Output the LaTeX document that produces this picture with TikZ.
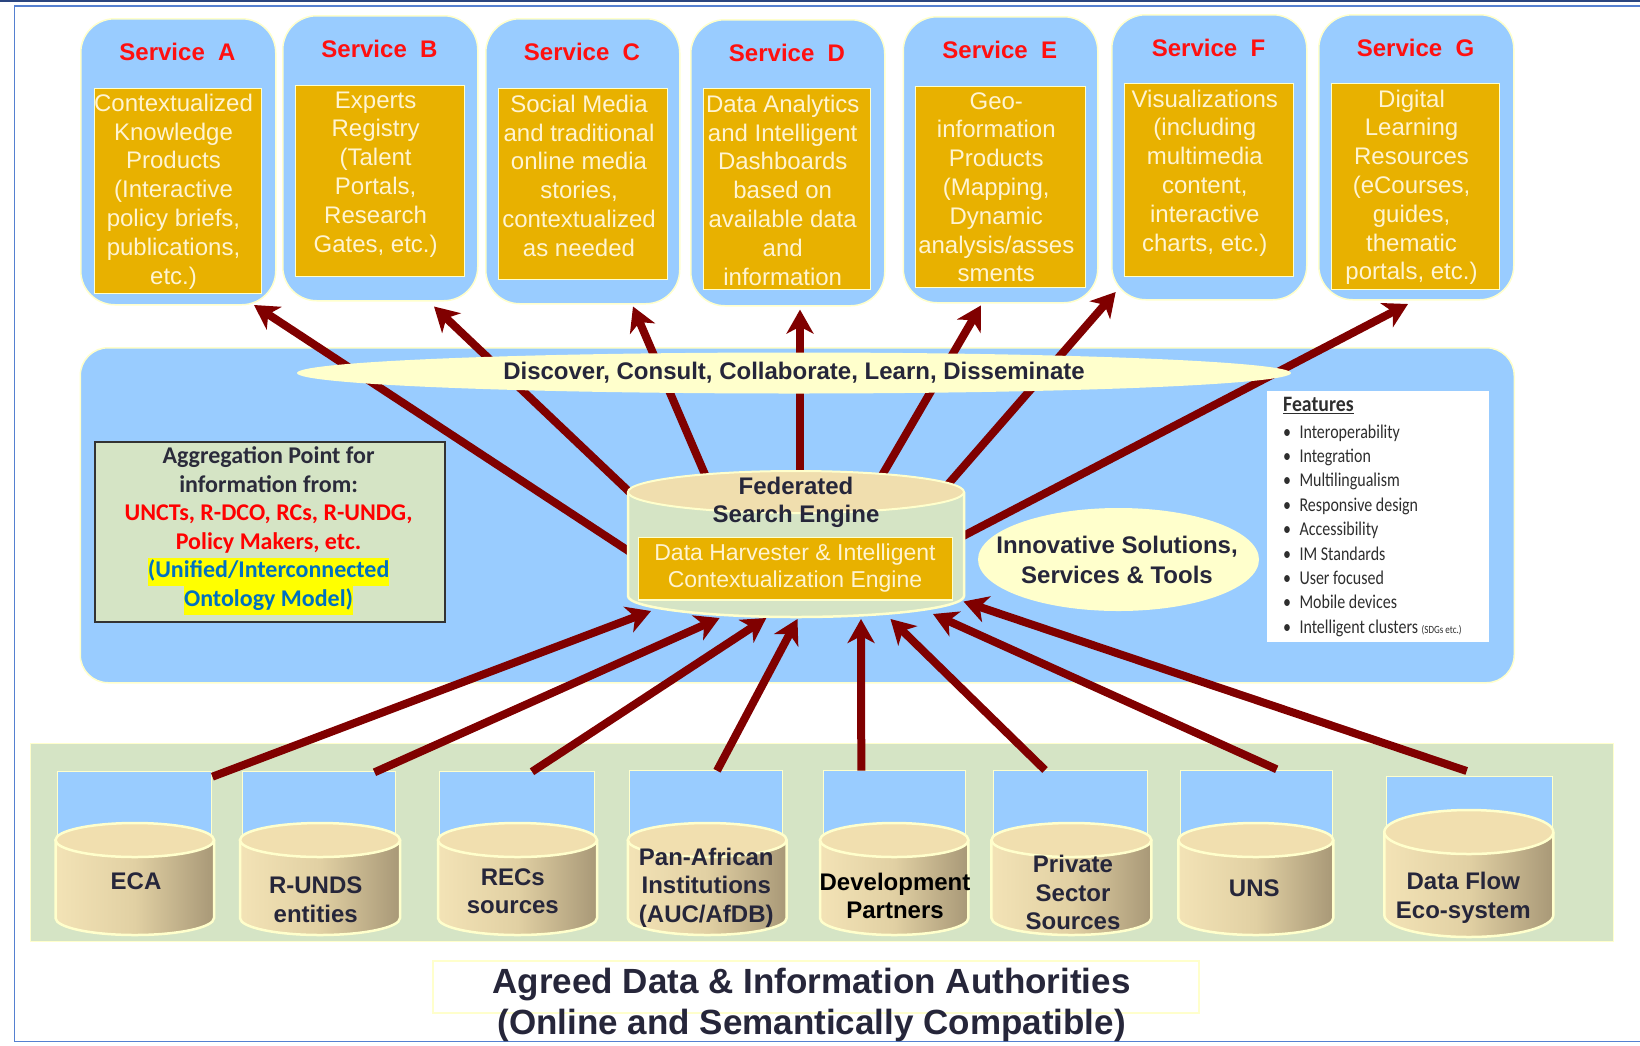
\documentclass[tikz,border=0pt]{standalone}
\usepackage{fontspec}
\setmainfont{Liberation Sans}
\newfontfamily\calfont{Carlito}
\newfontfamily\featfont[FakeStretch=0.82]{Carlito}
\newfontfamily\featheadfont[FakeStretch=0.9]{Carlito}
\usetikzlibrary{arrows.meta,shapes.geometric}
\definecolor{svcblue}{HTML}{99CCFF}
\definecolor{lemon}{HTML}{FFFFCC}
\definecolor{orng}{HTML}{E8B100}
\definecolor{cream}{HTML}{FFF4D2}
\definecolor{ttl}{HTML}{FF1010}
\definecolor{darktx}{HTML}{26263A}
\definecolor{aggtx}{HTML}{2B2B3B}
\definecolor{sage}{HTML}{D5E4C5}
\definecolor{tanc}{HTML}{F0DEAE}
\definecolor{cyltop}{HTML}{F1DFAF}
\definecolor{cylL}{HTML}{F3E3B6}
\definecolor{cylM}{HTML}{E1D0A3}
\definecolor{cylR}{HTML}{A89877}
\definecolor{arrowred}{HTML}{800000}
\definecolor{hlblue}{HTML}{0070C0}
\definecolor{hlyellow}{HTML}{FFFF00}
\definecolor{framedark}{HTML}{2A4580}
\definecolor{frameblue}{HTML}{5580D0}
\definecolor{feattx}{HTML}{2E2E2E}
\definecolor{aggedge}{HTML}{333333}

\newcommand\fbul{\makebox[16.3pt][l]{\textbullet}}
\newcommand\hlbox[1]{{\setlength{\fboxsep}{0pt}\colorbox{hlyellow}{\strut\textcolor{hlblue}{#1}}}}
% #1 name, #2 cx1, #3 cx2, #4 bx1, #5 bx2, #6 blue top, #7 top centre, #8 bottom centre, #9 ry
\newcommand\srccyl[9]{%
  \filldraw[fill=svcblue, draw=lemon, line width=1pt] (#4,#6) rectangle (#5,#7);
  \shade[left color=cylL, right color=cylR, middle color=cylM]
    (#2,#7) -- (#2,#8) arc[start angle=180, end angle=0, x radius={(#3-#2)/2}, y radius=#9] -- (#3,#7) -- cycle;
  \draw[lemon, line width=2.5pt]
    (#2,#7) -- (#2,#8) arc[start angle=180, end angle=0, x radius={(#3-#2)/2}, y radius=#9] -- (#3,#7);
  \filldraw[fill=cyltop, draw=lemon, line width=2.5pt] ({(#2+#3)/2},#7) ellipse[x radius={(#3-#2)/2}, y radius=#9];
  \node[inner sep=0pt] (#1) at ({(#2+#3)/2},{(#7+#8)/2}) {};
}

\begin{document}
\begin{tikzpicture}[x=1pt,y=-1pt,
  svc/.style={draw=lemon, line width=1.5pt, fill=svcblue, rounded corners=34pt, anchor=north west, inner sep=0pt},
  obox/.style={draw=lemon, line width=1.2pt, fill=orng, anchor=north west, inner sep=0pt},
  otext/.style={text=cream, font=\fontsize{24}{28.8}\selectfont, align=center, anchor=north, inner sep=0pt},
  stitle/.style={text=ttl, font=\bfseries\fontsize{24}{28.8}\selectfont, inner sep=0pt},
  srctext/.style={text=darktx, font=\bfseries\fontsize{24}{28.3}\selectfont, align=center, inner sep=0pt},
  arr/.style={draw=arrowred, line width=8pt, -{Stealth[length=24pt,width=27pt,inset=7pt]}}
]
\useasboundingbox (0,0) rectangle (1640,1045);

% frame
\draw[framedark, line width=2.5pt] (0,1.2) -- (1640,1.2);
\draw[frameblue, line width=1.5pt] (1640,6) -- (14.5,6) -- (14.5,1041.5) -- (1640,1041.5);

% services
\node[svc, minimum width=195pt, minimum height=286pt] (sA) at (80,18) {};
\node[obox, minimum width=167pt, minimum height=205pt] (oA) at (93.6,88) {};
\node[stitle] (tA) at (177.5,52) {Service\ \ A};
\node[otext] (xA) at (173.5,90.9) {\strut Contextualized\\Knowledge\\Products\\(Interactive\\policy briefs,\\publications,\\etc.)};

\node[svc, minimum width=195pt, minimum height=285pt] (sB) at (282,15) {};
\node[obox, minimum width=169pt, minimum height=191pt] (oB) at (294.6,85) {};
\node[stitle] (tB) at (379.5,49) {Service\ \ B};
\node[otext] (xB) at (375.6,87.8) {\strut Experts\\Registry\\(Talent\\Portals,\\Research\\Gates, etc.)};

\node[svc, minimum width=194pt, minimum height=285pt] (sC) at (485,18) {};
\node[obox, minimum width=169pt, minimum height=191pt] (oC) at (498,88) {};
\node[stitle] (tC) at (582,52) {Service\ \ C};
\node[otext] (xC) at (579,91.9) {\strut Social Media\\and traditional\\online media\\stories,\\contextualized\\as needed};

\node[svc, minimum width=194pt, minimum height=286pt] (sD) at (690,19) {};
\node[obox, minimum width=167.5pt, minimum height=201pt] (oD) at (702.5,88) {};
\node[stitle] (tD) at (787,53) {Service\ \ D};
\node[otext] (xD) at (782.7,91.9) {\strut Data Analytics\\and Intelligent\\Dashboards\\based on\\available data\\and\\information};

\node[svc, minimum width=194.5pt, minimum height=286pt] (sE) at (902.5,16) {};
\node[obox, minimum width=169.6pt, minimum height=201pt] (oE) at (915,86) {};
\node[stitle] (tE) at (999.8,50) {Service\ \ E};
\node[otext] (xE) at (996.3,88.8) {\strut Geo-\\information\\Products\\(Mapping,\\Dynamic\\analysis/asses\\sments};

\node[svc, minimum width=195pt, minimum height=285pt] (sF) at (1111,14) {};
\node[obox, minimum width=169.4pt, minimum height=193pt] (oF) at (1123.6,83) {};
\node[stitle] (tF) at (1208.5,48) {Service\ \ F};
\node[otext] (xF) at (1204.8,86.7) {\strut Visualizations\\(including\\multimedia\\content,\\interactive\\charts, etc.)};

\node[svc, minimum width=195pt, minimum height=285pt] (sG) at (1318,14) {};
\node[obox, minimum width=168pt, minimum height=206pt] (oG) at (1331,83) {};
\node[stitle] (tG) at (1415.5,48) {Service\ \ G};
\node[otext] (xG) at (1411.5,86.7) {\strut Digital\\Learning\\Resources\\(eCourses,\\guides,\\thematic\\portals, etc.)};

% hub
\node[draw=lemon, line width=1.5pt, fill=svcblue, rounded corners=28pt, minimum width=1434pt, minimum height=335pt, anchor=north west, inner sep=0pt] (hub) at (79.5,347) {};

% bottom band and sources
\node[draw=lemon, line width=1pt, fill=sage, minimum width=1583.3pt, minimum height=197.4pt, anchor=north west, inner sep=0pt] (band) at (30,743.3) {};
\srccyl{ECA}{55.5}{214}{57.5}{211.5}{771.7}{840}{918}{17}
\srccyl{RUNDS}{240}{400}{242}{395}{771.7}{840}{918}{17}
\srccyl{RECS}{438}{597}{439.5}{594}{771.7}{840}{918}{17}
\srccyl{PANAF}{627.8}{786.7}{629.7}{782.8}{770.7}{840}{918}{17}
\srccyl{DEV}{820}{968.4}{823}{965.8}{770.7}{840}{918}{17}
\srccyl{PRIV}{991.4}{1151.4}{993.3}{1147.5}{770}{840}{918}{17}
\srccyl{UNS}{1178.3}{1333.3}{1180}{1332.7}{770}{840}{918}{17}
\srccyl{DFLOW}{1384.3}{1553.3}{1386.7}{1552.3}{776.7}{832}{915}{22}

\node[srctext] (tECA) at (136,881.7) {ECA};
\node[srctext, anchor=north] (tRUNDS) at (315.7,873.8) {\strut R-UNDS\\entities};
\node[srctext, anchor=north] (tRECS) at (512.8,865.5) {\strut RECs\\sources};
\node[srctext, anchor=north] (tPANAF) at (706.3,845.5) {\strut Pan-African\\Institutions\\(AUC/AfDB)};
\node[srctext, anchor=north, text=black] (tDEV) at (895,870.5) {\strut Development\\Partners};
\node[srctext, anchor=north] (tPRIV) at (1073,852.8) {\strut Private\\Sector\\Sources};
\node[srctext] (tUNS) at (1254.3,888.3) {UNS};
\node[srctext, anchor=north, font=\bfseries\fontsize{24}{28.6}\selectfont] (tDFLOW) at (1463.3,869.5) {\strut Data Flow\\Eco-system};

% aggregation box
\node[draw=aggedge, line width=2pt, fill=sage, minimum width=350pt, minimum height=180pt, anchor=north west, inner sep=0pt] (agg) at (93.7,441) {};
\node[anchor=north, inner sep=0pt, align=center, font=\calfont\bfseries\fontsize{24}{28.5}\selectfont] (aggt) at (268.6,443.75)
  {\textcolor{aggtx}{\strut Aggregation Point for}\\\textcolor{aggtx}{information from:}\\\textcolor{red}{UNCTs, R-DCO, RCs, R-UNDG,}\\\textcolor{red}{Policy Makers, etc.}\\\hlbox{(Unified/Interconnected}\\\hlbox{Ontology Model)}};

% features
\node[fill=white, minimum width=222pt, minimum height=251pt, anchor=north west, inner sep=0pt] (featbox) at (1267,391) {};
\node[anchor=north west, inner sep=0pt, align=left, text=feattx, font=\featfont\fontsize{19.5}{24.4}\selectfont] (feat) at (1283,394.6)
  {\strut{\featheadfont\bfseries\fontsize{22}{24.4}\selectfont\underline{Features}}\\[1.9pt]
   \fbul Interoperability\\
   \fbul Integration\\
   \fbul Multilingualism\\
   \fbul Responsive design\\
   \fbul Accessibility\\
   \fbul IM Standards\\
   \fbul User focused\\
   \fbul Mobile devices\\
   \fbul Intelligent clusters {\fontsize{11}{12}\selectfont(SDGs etc.)}};

% innovative ellipse
\node[ellipse, fill=lemon, minimum width=281pt, minimum height=103pt, inner sep=0pt] (innov) at (1118.5,559.5) {};
\node[anchor=north, inner sep=0pt, align=center, text=darktx, font=\bfseries\fontsize{24}{30}\selectfont] (innovt) at (1117,532.6) {\strut Innovative Solutions,\\Services \& Tools};

% arrow end points
\coordinate (fA) at (633.7,554.4);  \coordinate (pA) at (254,305);
\coordinate (fB) at (631,493.5);    \coordinate (pB) at (434,306.5);
\coordinate (fC) at (706.7,478.4);  \coordinate (pC) at (633,306.5);
\coordinate (fD) at (800,478);      \coordinate (pD) at (800,309.6);
\coordinate (fE) at (880.5,477.9);  \coordinate (pE) at (981,305.4);
\coordinate (fF) at (945.7,487);    \coordinate (pF) at (1115.7,292);
\coordinate (fG) at (957,539.2);    \coordinate (pG) at (1408,304);

% top arrows
\foreach \s in {A,B,C,D,E,F,G} { \draw[arr] (f\s) -- (p\s); }

% discover ellipse
\node[ellipse, fill=lemon, minimum width=994pt, minimum height=41pt, inner sep=0pt, text=darktx, font=\bfseries\fontsize{24}{28}\selectfont] (disc) at (794,373) {Discover, Consult, Collaborate, Learn, Disseminate};

% federated cylinder
\fill[sage] (628,492) -- (628,596) arc[start angle=180, end angle=0, x radius=168, y radius=21] -- (964,492) -- cycle;
\draw[lemon, line width=2.5pt] (628,492) -- (628,596) arc[start angle=180, end angle=0, x radius=168, y radius=21] -- (964,492);
\filldraw[fill=tanc, draw=lemon, line width=2pt] (796,492) ellipse[x radius=168, y radius=21];
\node[inner sep=0pt, minimum width=336pt, minimum height=146pt] (fed) at (796,544) {};
\node[anchor=north, inner sep=0pt, align=center, text=darktx, font=\bfseries\fontsize{24}{28.3}\selectfont] (fedt) at (796,474.5) {\strut Federated\\Search Engine};
\node[obox, minimum width=314pt, minimum height=62.6pt] (harv) at (638,536.7) {};
\node[anchor=north, inner sep=0pt, align=center, text=cream, font=\fontsize{23}{27.6}\selectfont] (harvt) at (795,540.6) {\strut Data Harvester \& Intelligent\\Contextualization Engine};

% bottom arrows
\coordinate (hECA) at (651,611);
\coordinate (hRUNDS) at (719.6,618);
\coordinate (hRECS) at (766.3,618);
\coordinate (hPANAF) at (797.5,619);
\coordinate (hDEV) at (861,619);
\coordinate (hPRIV) at (890.5,619);
\coordinate (hUNS) at (933,614);
\coordinate (hDFLOW) at (963.5,601.5);
\coordinate (eECA) at (212.4,776.7);
\coordinate (eRUNDS) at (374.5,772.3);
\coordinate (eRECS) at (532,771.7);
\coordinate (ePANAF) at (717,770.7);
\coordinate (eDEV) at (861.3,770.7);
\coordinate (ePRIV) at (1045,770);
\coordinate (eUNS) at (1276.7,769.3);
\coordinate (eDFLOW) at (1466.7,771);
\foreach \s in {ECA,RUNDS,RECS,PANAF,DEV,PRIV,UNS,DFLOW} { \draw[arr] (e\s) -- (h\s); }

% caption
\node[draw=lemon, line width=1.5pt, fill=white, minimum width=766pt, minimum height=52pt, anchor=north west, inner sep=0pt] (capbox) at (432,960) {};
\node[anchor=north, inner sep=0pt, align=center, text=darktx, font=\bfseries\fontsize{35}{41}\selectfont] (cap) at (811.6,964.8) {\strut Agreed Data \& Information Authorities\\(Online and Semantically Compatible)};
\end{tikzpicture}
\end{document}
